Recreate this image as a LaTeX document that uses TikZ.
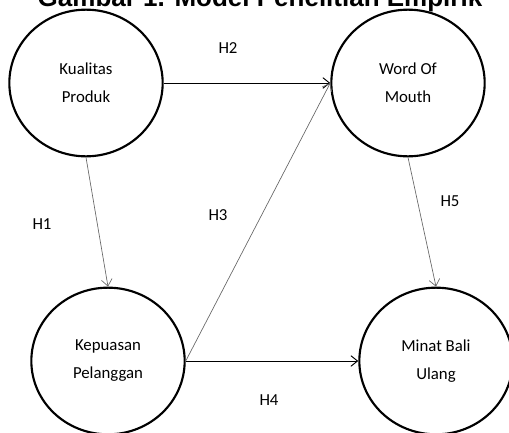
\documentclass[tikz,border=0pt]{standalone}
\usepackage{fontspec}
\setmainfont{Carlito}
\newfontfamily\titlefont{Liberation Sans}
\usetikzlibrary{shapes,arrows.meta,positioning}

\begin{document}
\begin{tikzpicture}[
  x=0.75pt, y=-0.75pt,
  var/.style={ellipse, draw, line width=1.6pt, minimum width=115pt, minimum height=110pt, align=center, font=\fontsize{12.6}{21}\selectfont},
  hyp/.style={font=\fontsize{12.6}{14}\selectfont},
  arrow/.style={-{Straight Barb[length=5pt,width=8pt]}, line width=0.7pt},
  thin arrow/.style={arrow, draw=black!60, line width=0.5pt}
]
  \useasboundingbox (0,0) rectangle (509,432);
  \node[anchor=base, font=\titlefont\bfseries\fontsize{19.5}{22}\selectfont] (title) at (260,6.5) {Gambar 1. Model Penelitian Empirik};
  \node[var] (kp) at (86,83) {Kualitas\\Produk};
  \node[var] (wom) at (408,83) {Word Of\\Mouth};
  \node[var] (kep) at (108,361) {Kepuasan\\Pelanggan};
  \node[var] (mbu) at (436,361) {Minat Bali\\Ulang};
  \node[hyp] (h1) at (42,224) {H1};
  \node[hyp] (h2) at (228,48) {H2};
  \node[hyp] (h3) at (218,215) {H3};
  \node[hyp] (h4) at (269,400) {H4};
  \node[hyp] (h5) at (450,201) {H5};
  \draw[thin arrow] (kp.south) -- (kep.north);
  \draw[arrow] (kp.east) -- (wom.west);
  \draw[thin arrow] (kep.east) -- (wom.west);
  \draw[arrow] (kep.east) -- (mbu.west);
  \draw[thin arrow] (wom.south) -- (mbu.north);
\end{tikzpicture}
\end{document}
